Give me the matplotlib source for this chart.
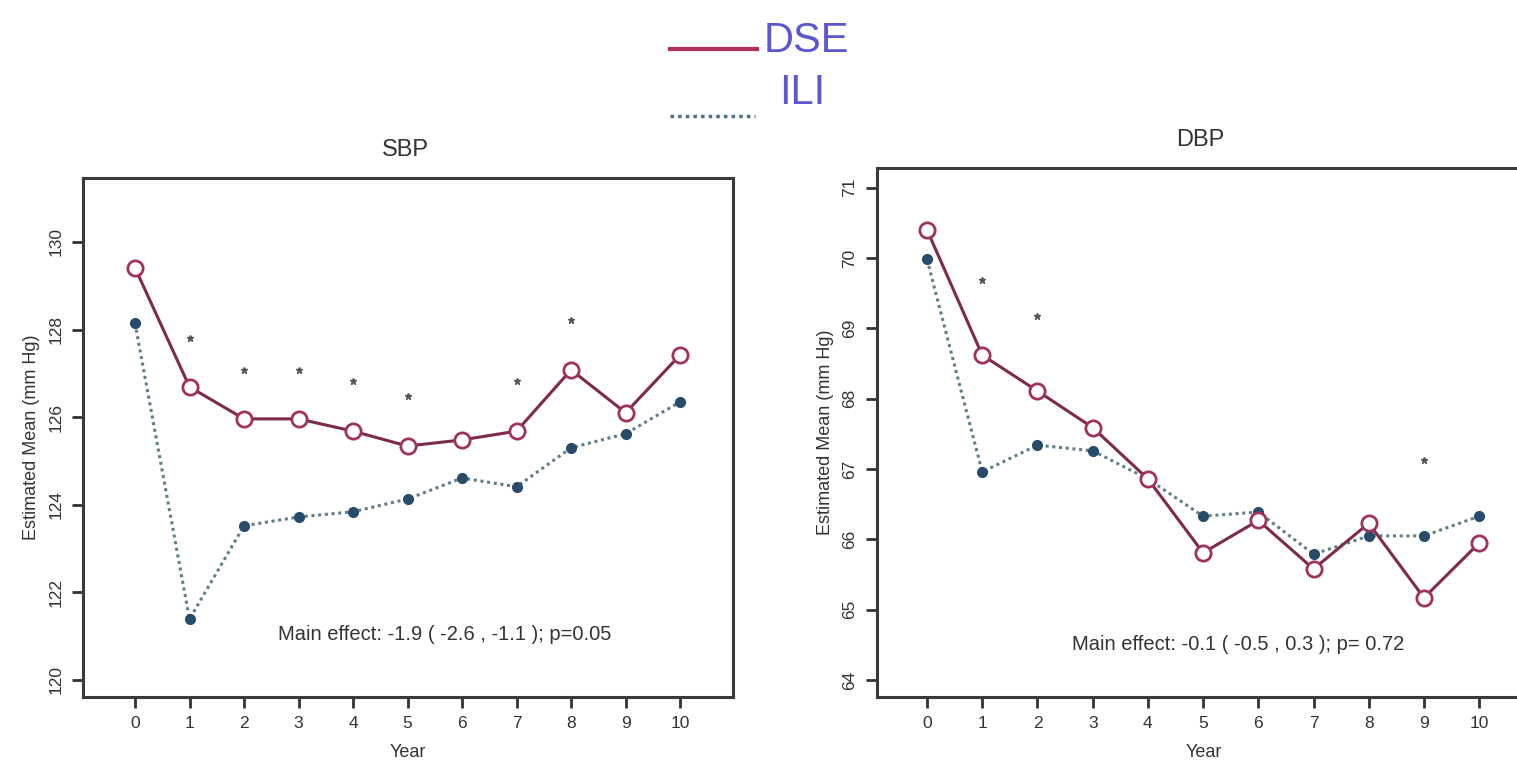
import matplotlib
matplotlib.use("Agg")
import matplotlib.pyplot as plt
from matplotlib.lines import Line2D

plt.rcParams['font.family'] = ['Liberation Sans', 'DejaVu Sans']

years = [0, 1, 2, 3, 4, 5, 6, 7, 8, 9, 10]

sbp_dse = [129.41, 126.69, 125.96, 125.96, 125.68, 125.34, 125.48, 125.68, 127.08, 126.10, 127.42]
sbp_ili = [128.15, 121.39, 123.52, 123.72, 123.84, 124.13, 124.61, 124.41, 125.30, 125.62, 126.35]
sbp_star_years = [1, 2, 3, 4, 5, 7, 8]
sbp_star_vals = [127.81, 127.08, 127.08, 126.83, 126.48, 126.83, 128.22]
sbp_ticks = [120, 122, 124, 126, 128, 130]

dbp_dse = [70.40, 68.62, 68.11, 67.59, 66.86, 65.81, 66.27, 65.58, 66.23, 65.17, 65.95]
dbp_ili = [69.98, 66.96, 67.34, 67.26, 66.86, 66.33, 66.39, 65.79, 66.05, 66.05, 66.33]
dbp_star_years = [1, 2, 9]
dbp_star_vals = [69.69, 69.18, 67.13]
dbp_ticks = [64, 65, 66, 67, 68, 69, 70, 71]

sbp_note = "Main effect: -1.9 ( -2.6 , -1.1 ); p=0.05"
dbp_note = "Main effect: -0.1 ( -0.5 , 0.3 ); p= 0.72"

W, H = 1517, 764
fig = plt.figure(figsize=(W / 100, H / 100), dpi=100)

DSE_LINE = '#7d2a4c'
DSE_EDGE = '#a0325e'
ILI_LINE = '#5f7f88'
ILI_DOT = '#274b6b'
LEG_TXT = '#5a58cf'


def fx(px):
    return px / W


def fy(py):
    return 1 - py / H


def panel(rect, xlim, ylim, dse, ili, sy, sv, ticks, note, note_xy):
    ax = fig.add_axes(rect)
    ax.plot(years, ili, linestyle=(0, (1, 1.2)), color=ILI_LINE, lw=2.2,
            marker='o', ms=7, mfc=ILI_DOT, mec=ILI_DOT, zorder=3)
    ax.plot(years, dse, linestyle='-', color=DSE_LINE, lw=2.2,
            marker='o', ms=11, mfc='white', mec=DSE_EDGE, mew=2, zorder=4)
    ax.plot(sy, sv, linestyle='none', marker='*', ms=5, color='#555555', zorder=2)
    ax.set_xlim(*xlim)
    ax.set_ylim(*ylim)
    ax.set_xticks(years)
    ax.set_yticks(ticks)
    ax.set_yticklabels([str(t) for t in ticks], rotation=90, va='center')
    ax.tick_params(axis='both', direction='out', length=8, width=2,
                   labelsize=12.5, colors='#333333', pad=6)
    for s in ax.spines.values():
        s.set_linewidth(2.2)
        s.set_color('#3a3a3a')
    ax.set_xlabel('Year', fontsize=13, color='#333333', labelpad=9)
    ax.set_ylabel('Estimated Mean (mm Hg)', fontsize=13, color='#333333', labelpad=6)
    ax.text(note_xy[0], note_xy[1], note, transform=ax.transAxes, fontsize=14.5,
            color='#333333', ha='left', va='center')
    return ax


ax1 = panel([fx(83), fy(697), fx(733) - fx(83), fy(178) - fy(697)],
            (-0.954, 10.97), (119.61, 131.46), sbp_dse, sbp_ili,
            sbp_star_years, sbp_star_vals, sbp_ticks, sbp_note,
            ((278 - 83) / 650, (697 - 635) / 519))

ax2 = panel([fx(877), fy(697), fx(1530) - fx(877), fy(168) - fy(697)],
            (-0.906, 10.92), (63.76, 71.28), dbp_dse, dbp_ili,
            dbp_star_years, dbp_star_vals, dbp_ticks, dbp_note,
            ((1072 - 877) / 653, (697 - 645) / 529))

fig.text(fx(405), fy(150), 'SBP', fontsize=17, color='#333333', ha='center', va='center')
fig.text(fx(1200), fy(140), 'DBP', fontsize=17, color='#333333', ha='center', va='center')

# legend
fig.add_artist(Line2D([fx(670), fx(757)], [fy(49), fy(49)], color='#b0305c', lw=3,
                      transform=fig.transFigure))
fig.add_artist(Line2D([fx(670), fx(755)], [fy(116), fy(116)], color='#4a6f86', lw=2.5,
                      linestyle=(0, (1, 1.2)), transform=fig.transFigure))
fig.text(fx(764), fy(41), 'DSE', fontsize=30, color=LEG_TXT, ha='left', va='center')
fig.text(fx(779), fy(93), 'ILI', fontsize=30, color=LEG_TXT, ha='left', va='center')

fig.savefig('out.png', dpi=100)
